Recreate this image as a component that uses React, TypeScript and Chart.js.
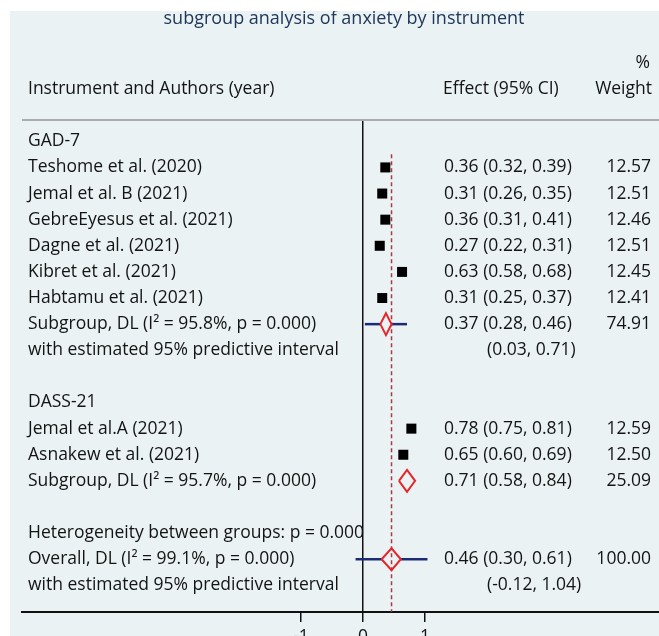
import React, { useEffect, useRef } from 'react';
import { Chart, registerables } from 'chart.js';

Chart.register(...registerables);

// ---------------- data ----------------
const chartTitle = 'subgroup analysis of anxiety by instrument';
const headerLabel = 'Instrument and Authors (year)';
const headerEffect = 'Effect (95% CI)';
const headerWeight = 'Weight';
const headerPercent = '%';

const groupNames = ['GAD-7', 'DASS-21'];

const gadStudies = [
  'Teshome et al. (2020)',
  'Jemal et al. B (2021)',
  'GebreEyesus et al. (2021)',
  'Dagne et al. (2021)',
  'Kibret et al. (2021)',
  'Habtamu et al. (2021)',
];
const gadEffect = [0.36, 0.31, 0.36, 0.27, 0.63, 0.31];
const gadLow = [0.32, 0.26, 0.31, 0.22, 0.58, 0.25];
const gadHigh = [0.39, 0.35, 0.41, 0.31, 0.68, 0.37];
const gadWeight = [12.57, 12.51, 12.46, 12.51, 12.45, 12.41];

const dassStudies = ['Jemal et al.A (2021)', 'Asnakew et al. (2021)'];
const dassEffect = [0.78, 0.65];
const dassLow = [0.75, 0.6];
const dassHigh = [0.81, 0.69];
const dassWeight = [12.59, 12.5];

// pooled estimates: GAD-7 subgroup, DASS-21 subgroup, Overall
const pooledEffect = [0.37, 0.71, 0.46];
const pooledLow = [0.28, 0.58, 0.3];
const pooledHigh = [0.46, 0.84, 0.61];
const pooledWeight = [74.91, 25.09, 100.0];
const pooledI2 = [95.8, 95.7, 99.1];
const pooledP = ['0.000', '0.000', '0.000'];
const predLow: (number | null)[] = [0.03, null, -0.12];
const predHigh: (number | null)[] = [0.71, null, 1.04];
const betweenGroupsP = '0.000';

const xTicks = [-1, 0, 1];

// ---------------- style ----------------
const BG = '#eaf2f3';
const FONT = "'Open Sans', sans-serif";
const FS = 17.5;
const TEXT = '#141414';
const RED = '#e5262a';
const NAVY = '#1c2a78';
const DASH = '#a83a48';

const CANVAS_W = 649;
const CANVAS_H = 660;
const X_MIN = -5.5;
const X_MAX = 4.774;
const Y_MIN = 0.1845;
const Y_MAX = 19.02;
const DIAMOND_H = 0.42;

// ---------------- rows ----------------
type Row = {
  row: number;
  kind: 'group' | 'study' | 'pooled' | 'pred' | 'het';
  label: string;
  eff?: number;
  lo?: number;
  hi?: number;
  w?: number;
  pLo?: number;
  pHi?: number;
};

const f2 = (v: number) => v.toFixed(2);

function buildRows(): Row[] {
  const rows: Row[] = [];
  let r = 1;
  const addGroup = (gi: number, names: string[], e: number[], lo: number[], hi: number[], w: number[]) => {
    rows.push({ row: r++, kind: 'group', label: groupNames[gi] });
    names.forEach((n, i) => rows.push({ row: r++, kind: 'study', label: n, eff: e[i], lo: lo[i], hi: hi[i], w: w[i] }));
    rows.push({
      row: r++, kind: 'pooled',
      label: `Subgroup, DL (I\u00B2 = ${pooledI2[gi].toFixed(1)}%, p = ${pooledP[gi]})`,
      eff: pooledEffect[gi], lo: pooledLow[gi], hi: pooledHigh[gi], w: pooledWeight[gi],
    });
    if (predLow[gi] !== null && predHigh[gi] !== null) {
      rows.push({ row: r++, kind: 'pred', label: 'with estimated 95% predictive interval', eff: pooledEffect[gi], lo: pooledLow[gi], hi: pooledHigh[gi], pLo: predLow[gi] as number, pHi: predHigh[gi] as number });
    }
    r++;
  };
  addGroup(0, gadStudies, gadEffect, gadLow, gadHigh, gadWeight);
  addGroup(1, dassStudies, dassEffect, dassLow, dassHigh, dassWeight);
  rows.push({ row: r++, kind: 'het', label: `Heterogeneity between groups: p = ${betweenGroupsP}` });
  rows.push({
    row: r++, kind: 'pooled',
    label: `Overall, DL (I\u00B2 = ${pooledI2[2].toFixed(1)}%, p = ${pooledP[2]})`,
    eff: pooledEffect[2], lo: pooledLow[2], hi: pooledHigh[2], w: pooledWeight[2],
  });
  rows.push({ row: r++, kind: 'pred', label: 'with estimated 95% predictive interval', eff: pooledEffect[2], lo: pooledLow[2], hi: pooledHigh[2], pLo: predLow[2] as number, pHi: predHigh[2] as number });
  return rows;
}

const ROWS = buildRows();

function buildDatasets() {
  const ds: any[] = [];
  const pooled = ROWS.filter((r) => r.kind === 'pooled');
  const studies = ROWS.filter((r) => r.kind === 'study');
  const preds = ROWS.filter((r) => r.kind === 'pred');

  pooled.forEach((p) => {
    ds.push({
      type: 'line', order: 0, showLine: true, fill: false, tension: 0,
      borderColor: RED, borderWidth: 2, pointRadius: 0, borderJoinStyle: 'miter',
      data: [
        { x: p.lo, y: p.row }, { x: p.eff, y: p.row - DIAMOND_H }, { x: p.hi, y: p.row },
        { x: p.eff, y: p.row + DIAMOND_H }, { x: p.lo, y: p.row },
      ],
    });
  });

  ds.push({
    type: 'scatter', order: 1,
    data: studies.map((s) => ({ x: s.eff, y: s.row })),
    pointStyle: 'rect',
    pointRadius: studies.map((s) => 2.0 * Math.sqrt(s.w as number)),
    backgroundColor: '#000', pointBackgroundColor: '#000', pointBorderWidth: 0, borderWidth: 0,
  });

  const overall = pooled[pooled.length - 1];
  ds.push({
    type: 'line', order: 2, showLine: true, fill: false,
    borderColor: DASH, borderWidth: 1.5, borderDash: [4, 3], pointRadius: 0,
    data: [{ x: overall.eff, y: 1.5 }, { x: overall.eff, y: Y_MAX }],
  });

  preds.forEach((p) => {
    // prediction interval drawn on the pooled row above it, left and right of the diamond
    const row = p.row - 1;
    ds.push({ type: 'line', order: 3, showLine: true, fill: false, borderColor: NAVY, borderWidth: 2.5, pointRadius: 0,
      data: [{ x: p.pLo, y: row }, { x: p.lo, y: row }] });
    ds.push({ type: 'line', order: 3, showLine: true, fill: false, borderColor: NAVY, borderWidth: 2.5, pointRadius: 0,
      data: [{ x: p.hi, y: row }, { x: p.pHi, y: row }] });
  });

  studies.forEach((s) => {
    ds.push({ type: 'line', order: 4, showLine: true, fill: false, borderColor: '#000', borderWidth: 1.5, pointRadius: 0,
      data: [{ x: s.lo, y: s.row }, { x: s.hi, y: s.row }] });
  });
  return ds;
}

// text layout (canvas px)
const LABEL_X = 18;
const EFFECT_X = 434;
const PRED_X = 477;
const WEIGHT_R = 641;

const forestPlugin = {
  id: 'forestText',
  beforeDraw(chart: any) {
    const { ctx, width, height } = chart;
    ctx.save();
    ctx.fillStyle = BG;
    ctx.fillRect(0, 0, width, height);
    ctx.restore();
  },
  afterDraw(chart: any) {
    const { ctx, chartArea } = chart;
    const y = chart.scales.y;
    ctx.save();
    // top rule
    ctx.strokeStyle = '#a9adb0';
    ctx.lineWidth = 2;
    ctx.beginPath();
    ctx.moveTo(chartArea.left, chartArea.top);
    ctx.lineTo(chartArea.right, chartArea.top);
    ctx.stroke();

    // title
    ctx.fillStyle = '#22385a';
    ctx.font = `18px ${FONT}`;
    ctx.textAlign = 'center';
    ctx.textBaseline = 'middle';
    ctx.fillText(chartTitle, 334, 8);

    ctx.fillStyle = TEXT;
    ctx.font = `${FS}px ${FONT}`;
    // headers
    ctx.textAlign = 'right';
    ctx.fillText(headerPercent, 640, y.getPixelForValue(-2));
    ctx.fillText(headerWeight, 642, y.getPixelForValue(-1));
    ctx.textAlign = 'left';
    ctx.fillText(headerLabel, LABEL_X, y.getPixelForValue(-1));
    ctx.fillText(headerEffect, 433, y.getPixelForValue(-1));

    ROWS.forEach((r) => {
      const py = y.getPixelForValue(r.row);
      ctx.textAlign = 'left';
      ctx.fillText(r.label, LABEL_X, py);
      if (r.kind === 'study' || r.kind === 'pooled') {
        ctx.fillText(`${f2(r.eff as number)} (${f2(r.lo as number)}, ${f2(r.hi as number)})`, EFFECT_X, py);
        ctx.textAlign = 'right';
        ctx.fillText((r.w as number).toFixed(2), WEIGHT_R, py);
      } else if (r.kind === 'pred') {
        ctx.fillText(`(${f2(r.pLo as number)}, ${f2(r.pHi as number)})`, PRED_X, py);
      }
    });
    ctx.restore();
  },
};

export default function App() {
  const ref = useRef<HTMLCanvasElement>(null);
  useEffect(() => {
    if (!ref.current) return;
    const chart = new Chart(ref.current, {
      type: 'scatter',
      data: { datasets: buildDatasets() },
      options: {
        responsive: false,
        animation: false,
        events: [],
        layout: { autoPadding: false, padding: { top: 109, left: 12, right: 0, bottom: 0 } },
        plugins: { legend: { display: false }, tooltip: { enabled: false }, title: { display: false } },
        scales: {
          x: {
            type: 'linear', position: 'bottom', min: X_MIN, max: X_MAX,
            afterBuildTicks: (s: any) => { s.ticks = xTicks.map((v) => ({ value: v })); },
            afterFit: (s: any) => { s.height = 59; s.paddingLeft = 0; s.paddingRight = 0; },
            ticks: { font: { family: FONT, size: FS }, color: TEXT, padding: 5, maxRotation: 0, autoSkip: false, callback: (v: any) => String(v) },
            grid: {
              drawOnChartArea: true,
              color: (c: any) => (c.tick && c.tick.value === 0 ? '#111' : 'rgba(0,0,0,0)'),
              lineWidth: 1.5, tickLength: 10, tickColor: '#111', tickWidth: 1.5,
            },
            border: { display: true, color: '#111', width: 2 },
          },
          y: { type: 'linear', display: false, reverse: true, min: Y_MIN, max: Y_MAX },
        },
      },
      plugins: [forestPlugin],
    } as any);
    return () => chart.destroy();
  }, []);
  return (
    <div style={{ position: 'fixed', left: 10, top: 11, width: CANVAS_W, height: 625, overflow: 'hidden', background: BG }}>
      <canvas ref={ref} width={CANVAS_W} height={CANVAS_H} style={{ display: 'block', width: CANVAS_W, height: CANVAS_H }} />
    </div>
  );
}
